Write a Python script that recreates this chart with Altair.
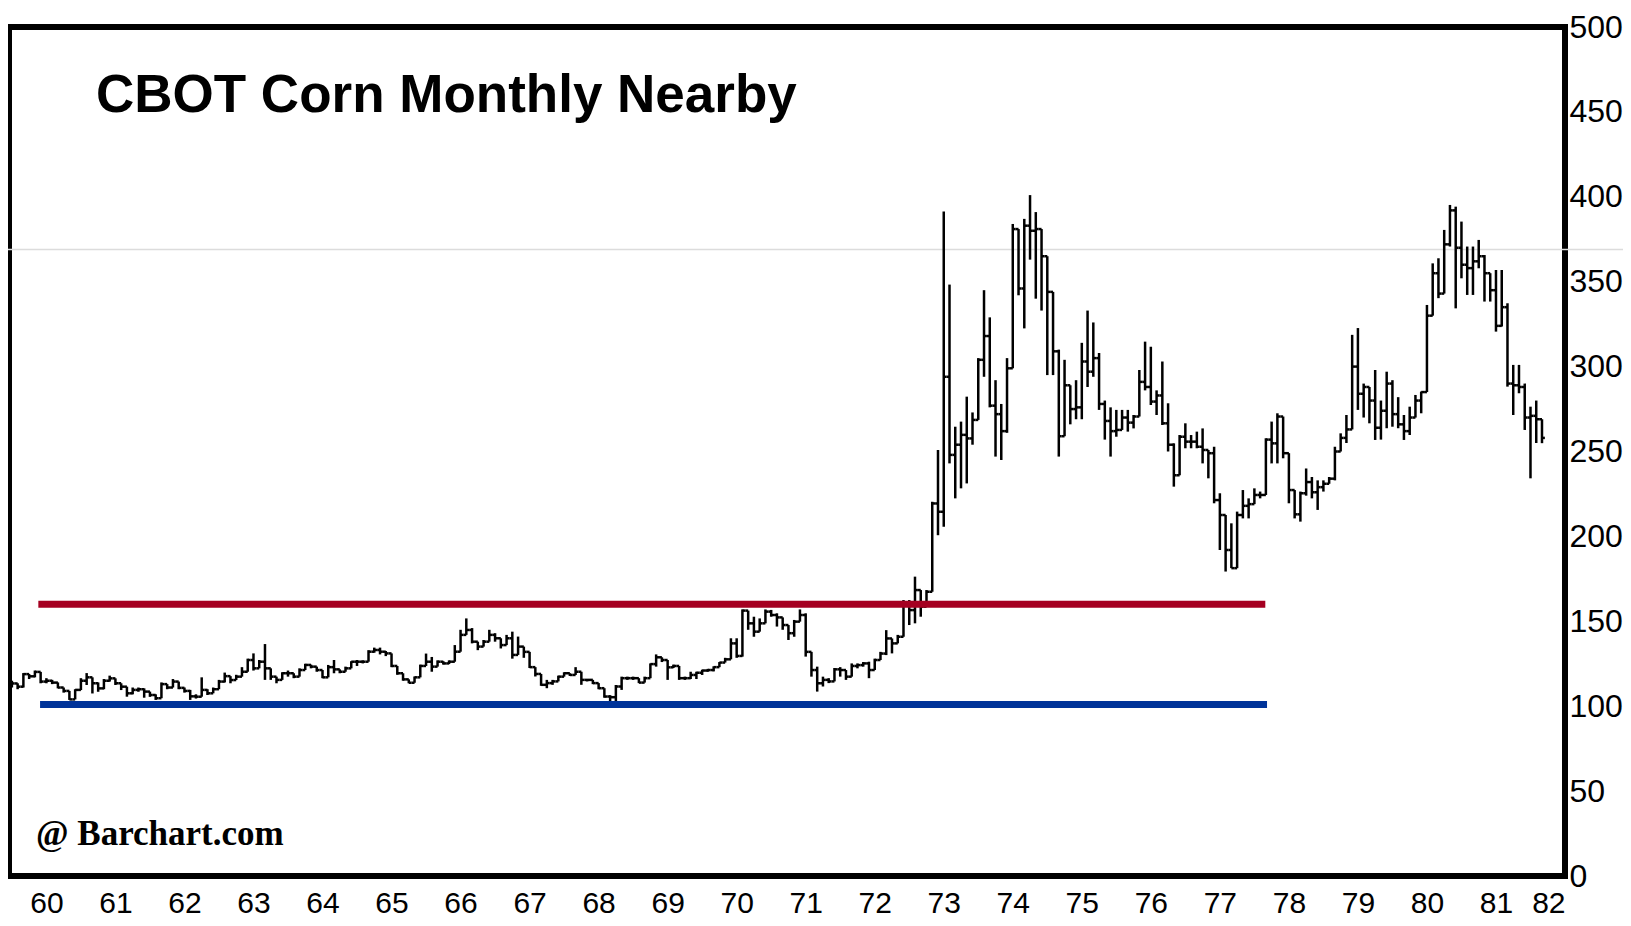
import json
import altair as alt
import pandas as pd

# Monthly CBOT corn nearby, Jan 1960 (index 0) onward, cents/bushel
close = [113.4, 111.5, 118.9, 117.6, 120.2, 114.5, 115, 113.9, 111, 109,
         104, 109.6, 115, 117, 113.5, 110.5, 115, 116.4, 113.5, 111.5,
         107.6, 109.6, 110, 108.6, 106.6, 104.7, 113, 111, 114.5, 110.8,
         109, 105.8, 105.6, 109.6, 107.6, 110, 114.5, 117.7, 115.4, 117.4,
         120.3, 127.2, 122.3, 126.2, 122.3, 117.4, 115.5, 119.4, 119.4, 117.4,
         121.3, 124.3, 123.3, 121.3, 117, 123, 121.7, 120.3, 122.3, 126.2,
         126.2, 126.2, 132.1, 133.1, 132.1, 131.1, 123.7, 119.4, 115.8, 113.8,
         117, 123.7, 126.2, 123.3, 126.2, 125.2, 126.2, 132.1, 142, 144.9,
         138, 135.1, 138, 142, 140, 136, 140, 130.2, 135.1, 132,
         123, 119, 112.6, 113.6, 114.6, 117.4, 119.4, 118.4, 120.3, 115.5,
         115.5, 113.6, 110.6, 105.7, 105.3, 111.6, 116.5, 116.5, 116.5, 113.9,
         116.5, 124.8, 128.8, 127.2, 122.9, 123.7, 116.5, 116.5, 118.4, 119.7,
         121, 121.3, 123, 125.7, 127.6, 137, 129.6, 156.3, 148.8, 143.9,
         148.8, 155.7, 153.7, 152.3, 147.8, 143, 149.8, 153.7, 132, 121.3,
         113.5, 115.5, 114.6, 121.7, 121.3, 117.4, 123.7, 124.2, 125.2, 121.3,
         127.2, 131, 139.9, 137, 140.9, 160.5, 156.6, 168.4, 158.6, 167.4,
         219.4, 214.5, 294, 248, 254, 259.8, 257.7, 268.6, 304, 318,
         277, 272, 262, 299, 381, 346, 383, 380, 381, 365,
         344, 309, 259, 289, 275, 276, 303, 297, 305, 278,
         268, 262, 262.7, 270, 267, 270.6, 291, 288, 279.4, 283,
         266.6, 254, 236, 258.7, 255.8, 255.8, 252.8, 250.9, 249, 221.4,
         212.6, 192, 181.3, 212.6, 218, 219, 224.4, 224.4, 257, 254.8,
         270.6, 249, 227.3, 213, 225.4, 232, 226, 229, 231, 234,
         250, 258, 263, 300, 284, 288, 280, 264, 274, 290,
         272, 266, 262, 270, 280, 285, 330, 355, 343, 372,
         392, 370, 360, 358, 362, 365, 355, 345, 324, 335,
         290, 289, 288, 270, 271, 269, 258]

high = [115, 113.5, 119.5, 119, 121, 120, 116.5, 115.5, 114, 111,
        109, 110, 116.5, 119.5, 117, 114, 116, 118, 116, 113.5,
        111.5, 111, 111, 110.5, 108.6, 107, 114, 113, 116, 114.5,
        111, 109.6, 107, 117, 110, 111, 115.5, 119.8, 117.7, 118.5,
        123, 128, 131.1, 127.2, 136.6, 122.3, 117.4, 120, 121, 119.4,
        122.3, 125, 124.5, 123.3, 121.3, 124.3, 127.2, 121.7, 123.3, 126.5,
        127.2, 127, 133, 134.5, 134.5, 132.5, 131.1, 123.7, 119.4, 115.8,
        117.5, 124.5, 131, 129, 127, 126.5, 127, 136, 145, 151.7,
        146, 138, 139, 145, 143, 140, 142, 143.9, 141, 135.1,
        132, 123, 119, 115.5, 115.5, 118, 120, 119.4, 123, 120.3,
        116, 115.5, 113.6, 110.6, 106.5, 112.5, 117.4, 117.4, 117.4, 116.5,
        117.4, 125.2, 130.5, 128.8, 127.2, 124.5, 123.7, 117.4, 120.3, 120.3,
        121.5, 122, 123.5, 126, 128.5, 140, 140, 157, 155.7, 152.7,
        151.7, 157, 156.7, 154.7, 150.8, 146.9, 150.8, 157, 154.7, 132,
        123.3, 117.4, 116.5, 122.5, 123, 121.3, 125.2, 125.2, 126, 126.2,
        128, 132, 144.8, 139.9, 142, 162.5, 162.5, 176.3, 164.5, 168.4,
        220.4, 250.9, 391.3, 348.3, 264.6, 267.6, 282.3, 273, 305, 345,
        329, 292, 278, 305, 384, 380.5, 387, 401, 391, 372.6,
        353, 319.6, 310, 304, 287, 292, 314, 333, 326, 308,
        280, 276, 274.5, 274.5, 274.5, 271.5, 298, 314.7, 311.7, 286,
        303, 278.4, 254.8, 259.7, 266.6, 259.7, 261.7, 263.6, 249.9, 252.8,
        225.4, 200.9, 207.7, 214.6, 227.3, 222.4, 228.3, 226.4, 257.8, 267.6,
        272.5, 269.6, 248.9, 227.3, 226.4, 240, 235, 233, 233, 235,
        252.8, 260.7, 271.5, 318.7, 322.7, 290, 288, 298, 280, 297,
        292, 282, 271.5, 276.4, 283.3, 285.3, 336.3, 360.8, 363.8, 380.5,
        395.2, 394.2, 385.4, 370.7, 370.7, 374.6, 365.7, 355, 356.9, 356.9,
        337.3, 301, 301, 290, 276.4, 280, 260.7]

low = [111, 110, 111, 116, 117, 113.5, 113.5, 113, 110.5, 108,
       103.7, 104, 109.5, 112.5, 107.5, 108.5, 110, 114.5, 112.5, 109.5,
       105.6, 107, 108.5, 105, 105.5, 103.7, 104.7, 110, 111, 110,
       108, 103.7, 104.5, 105.6, 106.6, 107.6, 110, 114, 113.5, 115.4,
       117.4, 120.3, 121, 122.3, 115.5, 115.5, 113.5, 115.5, 117.4, 116.5,
       117.4, 121.3, 122.3, 120.3, 116.5, 117, 119.4, 119.4, 120.3, 122.3,
       123.7, 125.2, 126.2, 131.5, 130.5, 129.5, 123, 118.5, 115, 113.5,
       113.8, 117, 123.7, 120.3, 123.3, 124.5, 124.8, 126.2, 132.1, 142,
       137, 133, 135.1, 138, 138, 134, 136, 128, 130.2, 128.5,
       122.5, 117.5, 112, 110.6, 112.6, 114.6, 117.4, 117.8, 118.4, 112.6,
       114.6, 113, 110, 105, 102.7, 102.7, 109.6, 115.5, 115.5, 113.6,
       113.9, 116.5, 123.3, 126, 115.5, 122.5, 115.5, 115.5, 116, 116,
       118.4, 120.3, 120.5, 123, 126.5, 127.6, 128.5, 129.2, 145, 140.9,
       145, 150.8, 152.7, 146.9, 145, 139, 140.9, 150.8, 129.2, 117.4,
       108.6, 111.6, 113.6, 114.6, 117.4, 115.5, 117.4, 122.3, 123.3, 116.5,
       121.3, 127.2, 130.1, 131.1, 137, 140.9, 147.8, 148.8, 152.7, 164.5,
       167.4, 200.7, 205.7, 243, 222.4, 228.3, 231.2, 254, 269, 294,
       276, 247, 245, 261, 299, 342, 322.5, 363, 340, 333,
       295, 295, 247, 287, 266, 269, 269, 288, 294, 274.5,
       257, 247, 258.7, 263.6, 261.7, 263.6, 270.6, 286, 277.4, 271.5,
       265.6, 250, 229.3, 236, 251.9, 251.9, 251.9, 243, 234.2, 219.5,
       192, 179.3, 181.3, 199.9, 210.6, 210.6, 219.5, 222.4, 224.4, 243,
       243, 246, 219.5, 210.6, 208.7, 224, 222.4, 215.6, 226.4, 233,
       233, 250, 255, 267.6, 274.5, 270, 266.6, 256.8, 257, 263.7,
       264.6, 263.7, 256.8, 259.7, 272.5, 272.5, 285.3, 330.4, 340.3, 343.2,
       370.7, 334.3, 352, 342.2, 342.2, 357.9, 338.3, 338.3, 320.6, 323.6,
       288.2, 271.5, 284.3, 262.7, 234.2, 255, 254.9]

# x-axis: year labels placed at mid-year (month index)
year_labels = ["60", "61", "62", "63", "64", "65", "66", "67", "68", "69", "70",
               "71", "72", "73", "74", "75", "76", "77", "78", "79", "80", "81", "82"]
year_tick_months = [6, 18, 30, 42, 54, 66, 78, 90, 102, 114, 126, 138, 150,
                    162, 174, 186, 198, 210, 222, 234, 246, 258, 270]
price_ticks = [0, 50, 100, 150, 200, 250, 300, 350, 400, 450, 500]

# horizontal reference lines (value, start month, end month, colour)
level_values = [160, 101]
level_start = [4.6, 4.9]
level_end = [217.9, 218.2]
level_colors = ["#A50021", "#003399"]

title_text = ["CBOT Corn Monthly Nearby"]
credit_text = ["@ Barchart.com"]
faint_level = [369]

n = len(close)
df = pd.DataFrame({"m": list(range(n)), "high": high, "low": low, "close": close})
df["open"] = df["close"].shift(1).fillna(df["close"])
df["hi"] = df[["high", "open", "close"]].max(axis=1)
df["lo"] = df[["low", "open", "close"]].min(axis=1)
df["m_l"] = df["m"] - 0.5
df["m_r"] = df["m"] + 0.5

label_expr = json.dumps(year_labels) + "[floor(datum.value / 12)]"
num_font = "Liberation Sans"

xscale = alt.Scale(domain=[-0.5, 270], nice=False, zero=False)
yscale = alt.Scale(domain=[0, 500], nice=False, zero=False)

x_axis = alt.Axis(values=year_tick_months, labelExpr=label_expr, orient="bottom",
                  domain=False, ticks=False, grid=False, title=None,
                  labelFont=num_font, labelFontSize=30, labelColor="black",
                  labelPadding=12, labelFlush=12, labelOverlap=False)
y_axis = alt.Axis(values=price_ticks, orient="right", domain=False, ticks=False,
                  grid=False, title=None, labelFont=num_font, labelFontSize=32,
                  labelColor="black", labelPadding=4, labelOverlap=False)

W, H = 1556, 849
SW = 2.5

bars = alt.Chart(df).mark_rule(color="black", strokeWidth=SW).encode(
    x=alt.X("m:Q", scale=xscale, axis=x_axis),
    y=alt.Y("hi:Q", scale=yscale, axis=y_axis),
    y2="lo:Q",
)
close_ticks = alt.Chart(df).mark_rule(color="black", strokeWidth=SW).encode(
    x=alt.X("m:Q", scale=xscale, axis=x_axis),
    x2="m_r:Q",
    y=alt.Y("close:Q", scale=yscale, axis=y_axis),
)
open_ticks = alt.Chart(df).mark_rule(color="black", strokeWidth=SW).encode(
    x=alt.X("m_l:Q", scale=xscale, axis=x_axis),
    x2="m:Q",
    y=alt.Y("open:Q", scale=yscale, axis=y_axis),
)

faint = alt.Chart(pd.DataFrame({"v": faint_level})).mark_rule(
    color="#dcdcdc", strokeWidth=1.5).encode(
    x=alt.value(-1), x2=alt.value(W + 60),
    y=alt.Y("v:Q", scale=yscale, axis=y_axis),
)

levels = alt.Chart(pd.DataFrame({"v": level_values, "s": level_start,
                                 "e": level_end, "c": level_colors})).mark_rule(
    strokeWidth=7).encode(
    x=alt.X("s:Q", scale=xscale, axis=x_axis),
    x2="e:Q",
    y=alt.Y("v:Q", scale=yscale, axis=y_axis),
    color=alt.Color("c:N", scale=None),
)

title = alt.Chart(pd.DataFrame({"t": title_text})).mark_text(
    align="left", baseline="alphabetic", font="Liberation Sans", fontWeight="bold",
    fontSize=53, color="black").encode(
    x=alt.value(87), y=alt.value(85), text="t:N")

credit = alt.Chart(pd.DataFrame({"t": credit_text})).mark_text(
    align="left", baseline="alphabetic", font="Liberation Serif", fontWeight="bold",
    fontSize=35, color="black").encode(
    x=alt.value(27), y=alt.value(818), text="t:N")

chart = alt.layer(faint, bars, close_ticks, open_ticks, levels, title, credit).properties(
    width=W, height=H,
    autosize=alt.AutoSizeParams(type="none"),
    padding={"left": 1, "top": 19, "right": 58, "bottom": 42},
).configure_view(stroke="black", strokeWidth=6)

chart.save("out.html", embed_options={"renderer": "svg", "actions": False})
